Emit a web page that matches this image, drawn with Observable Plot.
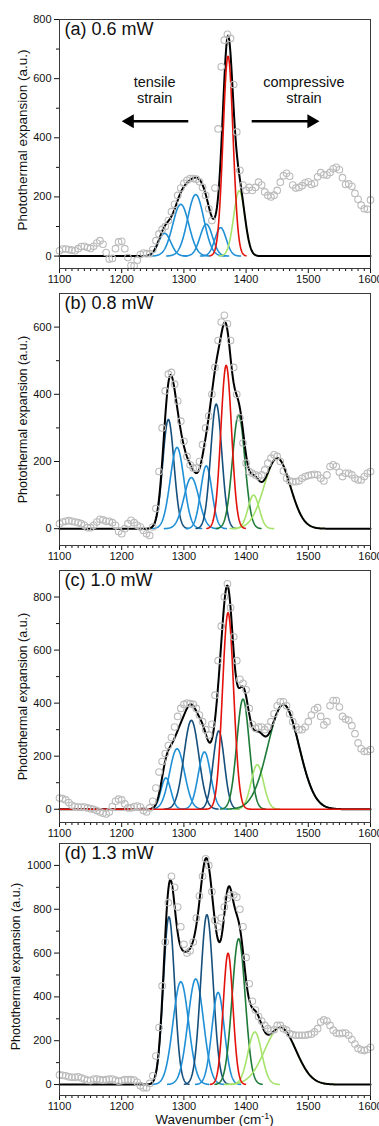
<!DOCTYPE html>
<html><head><meta charset="utf-8">
<script src="https://cdn.jsdelivr.net/npm/d3@7"></script>
<script src="https://cdn.jsdelivr.net/npm/@observablehq/plot@0.6"></script>
<style>
body{margin:0;background:#fff;}
#chart{width:379px;font-family:"Liberation Sans",Arial,Helvetica,sans-serif;}
#chart svg{display:block;overflow:visible;}
#xlabel{margin-left:59px;width:311px;text-align:center;font-size:13.5px;line-height:16px;color:#111;}
#xlabel sup{font-size:9px;line-height:0;}
</style></head><body><div id="chart"></div>
<script>
// ---------- DATA ----------
const wavenumbers = [
1100,1105,1110,1115,1120,1125,1130,1135,1140,1145,
1150,1155,1160,1165,1170,1175,1180,1185,1190,1195,
1200,1205,1210,1215,1220,1225,1230,1235,1240,1245,
1250,1255,1260,1265,1270,1275,1280,1285,1290,1295,
1300,1305,1310,1315,1320,1325,1330,1335,1340,1345,
1350,1355,1360,1365,1370,1375,1380,1385,1390,1395,
1400,1405,1410,1415,1420,1425,1430,1435,1440,1445,
1450,1455,1460,1465,1470,1475,1480,1485,1490,1495,
1500,1505,1510,1515,1520,1525,1530,1535,1540,1545,
1550,1555,1560,1565,1570,1575,1580,1585,1590,1595,
1600];

const signalA = [
18,24,24,22,20,18,25,32,33,29,
26,33,44,52,40,12,-10,-8,25,48,
50,25,-5,-32,-33,-14,5,10,8,8,
22,52,75,90,100,120,150,175,205,230,
246,256,262,262,260,251,232,205,160,120,
230,430,640,730,750,736,580,420,290,240,
222,232,222,232,250,240,217,205,200,206,
222,250,272,280,270,240,230,232,238,248,
251,242,246,268,282,275,274,283,295,300,
292,265,242,244,236,212,192,172,160,158,
190];

const signalB = [
15,20,22,24,22,20,18,15,10,3,
3,10,20,28,26,22,22,18,10,-8,
-15,0,15,25,18,10,5,-5,-15,-20,
5,60,170,300,410,460,465,430,380,320,
260,215,190,180,180,200,250,300,335,400,
480,560,615,635,610,560,480,400,330,255,
195,170,165,160,155,160,175,195,210,220,
215,200,172,150,142,140,140,142,150,155,
158,160,162,160,150,142,160,185,190,185,
168,155,165,165,160,150,145,145,155,165,
170];

const signalC = [
42,40,35,25,15,10,8,8,8,5,
2,0,-5,-10,-15,-18,-10,10,30,38,
35,20,5,5,10,12,8,-5,-10,5,
30,80,140,180,210,240,270,310,350,380,
395,400,398,395,380,355,330,300,280,320,
430,560,690,800,850,760,650,560,490,475,
450,380,320,305,310,310,300,310,330,360,
390,405,405,390,360,330,310,300,300,310,
330,355,375,383,350,318,330,390,410,410,
385,350,340,335,315,285,250,228,218,218,
225];

const signalD = [
44,42,40,35,33,33,35,30,25,20,
18,25,25,22,20,22,25,25,20,15,
18,22,22,22,20,10,-5,-15,-15,5,
40,130,260,450,650,830,950,900,810,720,
640,600,610,650,760,860,950,1030,1000,880,
750,720,760,810,850,865,865,855,800,720,
580,460,380,340,310,290,270,255,245,250,
270,270,255,248,232,228,225,225,225,225,
228,230,240,255,285,295,290,270,248,235,
232,235,235,225,205,185,165,158,155,160,
170];

// fitted peak components: centre (cm-1), height (a.u.), sigma (cm-1), group
const peakCentersA = [1269,1295,1319,1336,1359,1371,1389];
const peakHeightsA = [77,175,208,108,96,676,221];
const peakSigmasA  = [10,13,13,10,9,8,9];
const peakGroupsA  = ["T","T","T","T","T","R","C2"];

const peakCentersB = [1275,1289,1312,1336,1352,1368,1388,1412,1450];
const peakHeightsB = [325,242,152,187,371,486,339,100,210];
const peakSigmasB  = [9,11,12,9,9,8.6,10,9,21];
const peakGroupsB  = ["T2","T","T","T","T2","R","C1","C2","C2"];

const peakCentersC = [1271,1289,1312,1333,1356,1371,1395,1418,1460];
const peakHeightsC = [118,228,335,216,295,741,415,168,395];
const peakSigmasC  = [8,12,12,10,9,9,10,10,25];
const peakGroupsC  = ["T","T","T2","T","T2","R","C1","C2","C1"];

const peakCentersD = [1276,1295,1319,1337,1355,1371,1388,1414,1455];
const peakHeightsD = [765,469,482,775,420,599,665,240,260];
const peakSigmasD  = [9,12.5,12.5,10,10,7.8,10.5,11,25];
const peakGroupsD  = ["T2","T","T","T2","T","R","C1","C2","C2"];

const panelTitles = ["(a) 0.6 mW","(b) 0.8 mW","(c) 1.0 mW","(d) 1.3 mW"];
const xTicks = [1100,1200,1300,1400,1500,1600];
const yTicksA = [0,200,400,600,800];
const yTicksB = [0,200,400,600];
const yTicksC = [0,200,400,600,800];
const yTicksD = [0,200,400,600,800,1000];
const yLabel = "Photothermal expansion (a.u.)";

// strain annotations of panel (a): anchor in data units
const strainLabels = [
  {wn:1253, v:561, text:"tensile\nstrain"},
  {wn:1493, v:561, text:"compressive\nstrain"}
];
const strainArrows = [
  {from:1307, to:1200, v:456},
  {from:1409, to:1518, v:456}
];

// ---------- STYLE / LAYOUT ----------
const groupColors = {T:"#1f8fd6", T2:"#154f7c", R:"#e3120b", C1:"#1e7a38", C2:"#a5e36a"};
const xMinor = d3.range(1100,1601,10).filter(v => v % 100 !== 0);

const panels = [
  {signal:signalA, c:peakCentersA, h:peakHeightsA, s:peakSigmasA, g:peakGroupsA, yTicks:yTicksA, dom:[-42,800], height:285, mt:19, mb:17, labelDx:-37, labelDy:-4, labelSize:13.5, notes:true},
  {signal:signalB, c:peakCentersB, h:peakHeightsB, s:peakSigmasB, g:peakGroupsB, yTicks:yTicksB, dom:[-50,700], height:275, mt:8, mb:15, labelDx:-37, labelDy:0, labelSize:12.5},
  {signal:signalC, c:peakCentersC, h:peakHeightsC, s:peakSigmasC, g:peakGroupsC, yTicks:yTicksC, dom:[-50,900], height:278, mt:10, mb:16, labelDx:-37, labelDy:0, labelSize:12.5, fullRed:true},
  {signal:signalD, c:peakCentersD, h:peakHeightsD, s:peakSigmasD, g:peakGroupsD, yTicks:yTicksD, dom:[-50,1100], height:274, mt:5, mb:17, labelDx:-44, labelDy:-3, labelSize:12.5}
];

const gauss = (c,h,s,x) => h*Math.exp(-((x-c)**2)/(2*s*s));
const grid = d3.range(1100, 1600.01, 1);
const fmt = d => String(d);

const chart = document.getElementById("chart");
panels.forEach((p, i) => {
  const points = wavenumbers.map((w, j) => ({x:w, y:p.signal[j]}));
  const compsOf = filt => {
    const out = [];
    d3.range(p.c.length).filter(filt).forEach(k => {
      const full = p.fullRed && p.g[k] === "R";
      const lo = full ? 1100 : Math.max(1100, p.c[k]-3.6*p.s[k]);
      const hi = full ? 1600 : Math.min(1600, p.c[k]+3.6*p.s[k]);
      for (let x = lo; x <= hi + 1e-9; x += 0.5) out.push({x, y:gauss(p.c[k],p.h[k],p.s[k],x), k, col:groupColors[p.g[k]]});
    });
    return out;
  };
  const compsOther = compsOf(k => p.g[k] !== "R");
  const compsRed = compsOf(k => p.g[k] === "R");
  const total = grid.map(x => ({x, y:d3.sum(p.c, (c,k) => gauss(c,p.h[k],p.s[k],x))}));
  const yMinorTicks = d3.range(100, p.dom[1], 200);

  const marks = [
    Plot.axisY(yMinorTicks, {tickSize:3, tickFormat:() => "", label:null}),
    Plot.axisY(p.yTicks, {tickSize:5, tickPadding:3, fontSize:11, tickFormat:fmt, label:null}),
    Plot.axisX(xMinor, {tickSize:3, tickFormat:() => "", label:null}),
    Plot.axisX(xTicks, {tickSize:5, tickPadding:2, fontSize:11, tickFormat:fmt, label:null}),
    Plot.line(compsOther, {x:"x", y:"y", z:"k", stroke:"col", strokeWidth:1.6}),
    Plot.line(total, {x:"x", y:"y", stroke:"#000", strokeWidth:2}),
    Plot.line(compsRed, {x:"x", y:"y", z:"k", stroke:"col", strokeWidth:1.6}),
    Plot.dot(points, {x:"x", y:"y", r:3.3, stroke:"#bbbbbb", strokeWidth:1.1, fill:"none"}),
    Plot.frame({stroke:"#3a3a3a", strokeWidth:1}),
    Plot.text([panelTitles[i]], {frameAnchor:"top-left", dx:5, dy:3, lineAnchor:"top", textAnchor:"start", fontSize:18, fill:"#111"}),
    Plot.text([yLabel], {frameAnchor:"left", textAnchor:"middle", dx:p.labelDx, dy:p.labelDy, rotate:-90, fontSize:p.labelSize, fill:"#111"})
  ];
  if (p.notes) {
    marks.push(
      Plot.text(strainLabels, {x:"wn", y:"v", text:"text", textAnchor:"middle", fontSize:14.5, lineHeight:1.1, fill:"#111"}),
      Plot.link(strainArrows, {x1:"from", x2:d => d.to + (d.to < d.from ? 12 : -12), y1:"v", y2:"v", stroke:"#000", strokeWidth:2.6}),
      Plot.dot(strainArrows, {x:d => d.to + (d.to < d.from ? 13 : -13), y:"v", symbol:"triangle", r:5.2, fill:"#000", stroke:"none", rotate:d => d.to < d.from ? -90 : 90})
    );
  }
  const svg = Plot.plot({
    width:379, height:p.height,
    marginLeft:59, marginRight:9, marginTop:p.mt, marginBottom:p.mb,
    x:{domain:[1100,1600]},
    y:{domain:p.dom},
    color:{type:"identity"},
    style:{fontFamily:"'Liberation Sans',Arial,Helvetica,sans-serif", color:"#111", background:"transparent", overflow:"visible"},
    marks
  });
  chart.appendChild(svg);
});
const xl = document.createElement("div");
xl.id = "xlabel";
xl.innerHTML = "Wavenumber (cm<sup>-1</sup>)";
chart.appendChild(xl);
</script></body></html>
